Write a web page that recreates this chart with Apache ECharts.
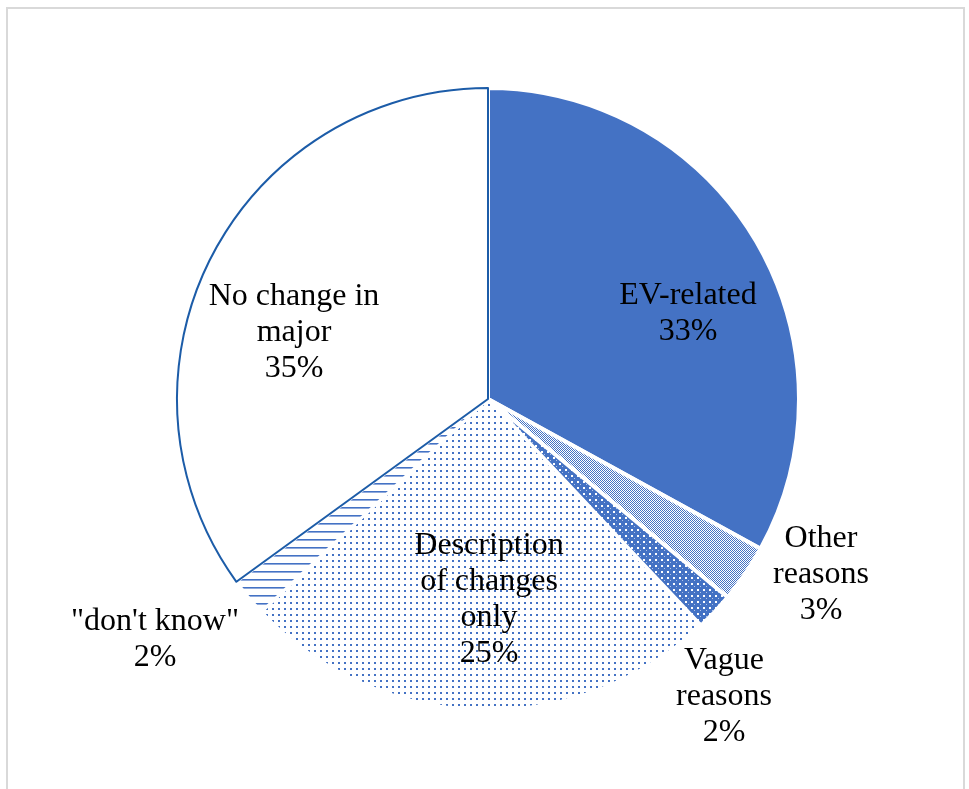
<!DOCTYPE html>
<html>
<head>
<meta charset="utf-8">
<script src="https://cdn.jsdelivr.net/npm/echarts@6/dist/echarts.min.js"></script>
<style>
  html, body { margin: 0; padding: 0; background: #ffffff; }
  #chart { width: 969px; height: 789px; }
</style>
</head>
<body>
<div id="chart"></div>
<script>
// Reasons given for changing (or not changing) major, share of respondents
const categories = [
  'EV-related',
  'Other\nreasons',
  'Vague\nreasons',
  'Description\nof changes\nonly',
  '"don\'t know"',
  'No change in\nmajor'
];
const shares = [33, 3, 2, 25, 2, 35];

// Label block centres, pixels
const labelSpots = [
  [688, 314],
  [821, 575],
  [724, 697],
  [489, 600],
  [155, 640],
  [294, 333]
];

const BLUE = '#4472c4';

function tile(w, h, draw) {
  const c = document.createElement('canvas');
  c.width = w; c.height = h;
  const g = c.getContext('2d');
  draw(g);
  return { image: c, repeat: 'repeat' };
}

// fine checker
const checkFill = tile(2, 2, g => {
  g.fillStyle = '#ffffff'; g.fillRect(0, 0, 2, 2);
  g.fillStyle = BLUE; g.fillRect(0, 0, 1, 1); g.fillRect(1, 1, 1, 1);
});
// blue with white dots
const whiteDotFill = tile(6, 6, g => {
  g.fillStyle = BLUE; g.fillRect(0, 0, 6, 6);
  g.fillStyle = '#ffffff'; g.fillRect(1, 1, 2, 2);
  g.fillStyle = 'rgba(255,255,255,0.6)'; g.fillRect(4, 4, 1, 1);
});
// white with sparse blue dots
const blueDotFill = tile(6, 6, g => {
  g.fillStyle = '#ffffff'; g.fillRect(0, 0, 6, 6);
  g.fillStyle = BLUE; g.fillRect(2, 2, 2, 2);
});
// horizontal stripes
const stripeFill = tile(4, 8, g => {
  g.fillStyle = '#ffffff'; g.fillRect(0, 0, 4, 8);
  g.fillStyle = BLUE; g.fillRect(0, 3, 4, 1);
  g.fillStyle = '#8ea9dc'; g.fillRect(0, 4, 4, 1);
});

const sliceStyles = [
  { color: BLUE, borderColor: '#ffffff', borderWidth: 4 },
  { color: checkFill, borderColor: '#ffffff', borderWidth: 4 },
  { color: whiteDotFill, borderColor: '#ffffff', borderWidth: 4 },
  { color: blueDotFill, borderColor: '#ffffff', borderWidth: 3 },
  { color: stripeFill, borderColor: '#ffffff', borderWidth: 3 },
  { color: '#ffffff', borderColor: '#1c5ca8', borderWidth: 2 }
];

const chart = echarts.init(document.getElementById('chart'), null, { renderer: 'canvas' });

chart.setOption({
  backgroundColor: '#ffffff',
  animation: false,
  graphic: [{
    type: 'rect',
    shape: { x: 7, y: 8, width: 957, height: 800 },
    style: { fill: 'none', stroke: '#d9d9d9', lineWidth: 2 },
    silent: true
  }],
  series: [{
    type: 'pie',
    center: [488, 399],
    radius: 311,
    startAngle: 90,
    clockwise: true,
    avoidLabelOverlap: false,
    label: {
      show: true,
      position: 'inside',
      formatter: p => p.name + '\n' + p.value + '%',
      fontFamily: 'Liberation Serif',
      fontSize: 32,
      lineHeight: 36,
      color: '#000000',
      align: 'center',
      verticalAlign: 'middle'
    },
    labelLine: { show: false },
    labelLayout: p => {
      const s = labelSpots[p.dataIndex];
      return { x: s[0], y: s[1], align: 'center', verticalAlign: 'middle', hideOverlap: false };
    },
    emphasis: { disabled: true },
    data: categories.map((name, i) => ({
      name: name,
      value: shares[i],
      itemStyle: sliceStyles[i]
    }))
  }]
});
</script>
</body>
</html>
